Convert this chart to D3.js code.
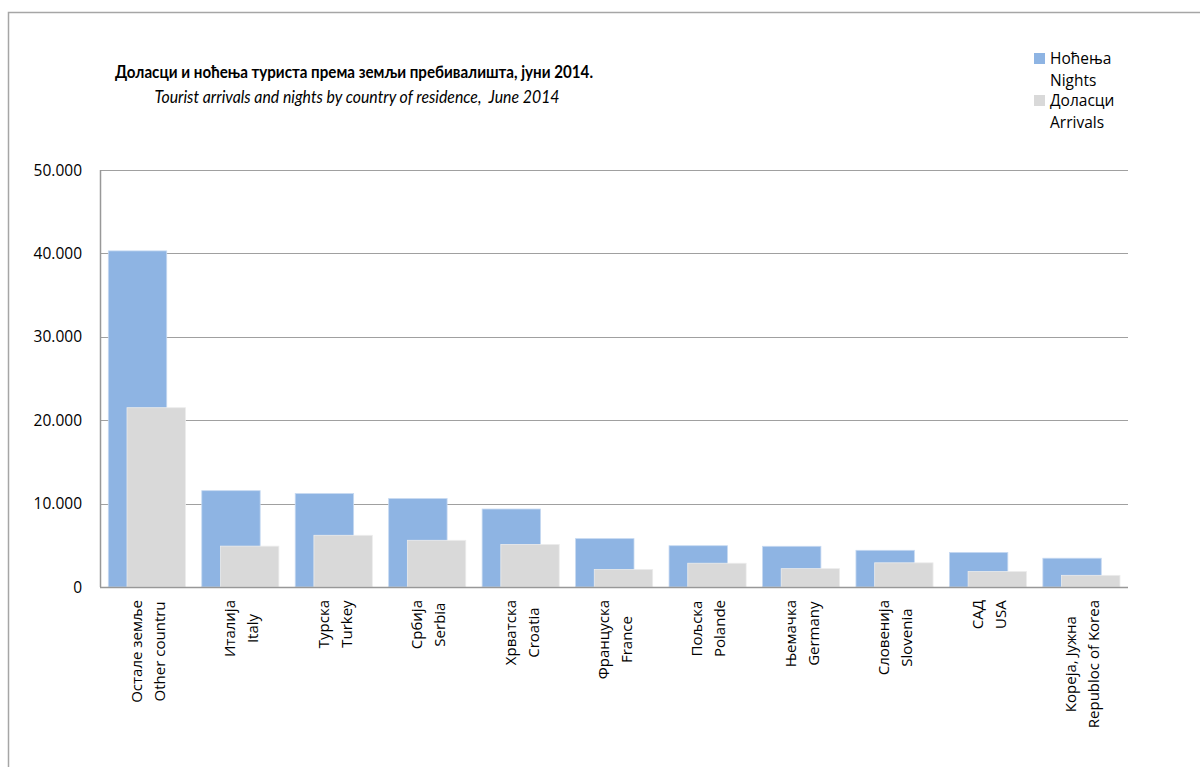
<!DOCTYPE html>
<html>
<head>
<meta charset="utf-8">
<script src="https://cdn.jsdelivr.net/npm/d3@7/dist/d3.min.js"></script>
<style>
body{margin:0;background:#fff;}
text{font-family:"Open Sans",sans-serif;fill:#000;}
</style>
</head>
<body>
<svg id="chart"></svg>
<script>
// categories, two lines each (Serbian / English)
var countriesSr = ["Остале земље","Италија","Турска","Србија","Хрватска","Француска","Пољска","Њемачка","Словенија","САД","Кореја, Јужна"]
var countriesEn = ["Other countru","Italy","Turkey","Serbia","Croatia","France","Polande","Germany","Slovenia","USA","Republoc of Korea"]
var nights   = [40300,11550,11200,10600,9350,5800,4950,4880,4400,4150,3450]
var arrivals = [21500,4900,6200,5600,5100,2100,2850,2200,2900,1850,1400]
var yTicks = [0,10000,20000,30000,40000,50000]
var seriesNames = [["Ноћења","Nights"],["Доласци","Arrivals"]]
var colors = ["#8eb4e3","#d9d9d9"]

var screen = {width:1200,height:767}
var margins = {left:100,right:72,top:170,bottom:180}
var graph = {
    width:screen.width-margins.left-margins.right,
    height:screen.height-margins.top-margins.bottom
}

var svg = d3.select("#chart")
    .attr("width",screen.width)
    .attr("height",screen.height)

// outer frame
svg.append("rect")
    .attr("x",8.5).attr("y",12.5)
    .attr("width",1230).attr("height",800)
    .attr("fill","none")
    .attr("stroke","#a6a6a6")
    .attr("stroke-width",1.5)

var xScale = d3.scaleBand()
    .domain(d3.range(countriesSr.length))
    .range([0,graph.width])

var yScale = d3.scaleLinear()
    .domain([0,50000])
    .range([graph.height,0])

var target = svg.append("g")
    .attr("transform","translate("+margins.left+","+margins.top+")")

// gridlines
target.append("g")
    .selectAll("line")
    .data(yTicks)
    .enter()
    .append("line")
    .attr("x1",0)
    .attr("x2",graph.width)
    .attr("y1",function(d){return Math.round(yScale(d))+0.5})
    .attr("y2",function(d){return Math.round(yScale(d))+0.5})
    .attr("stroke","#a0a0a0")
    .attr("stroke-width",1.2)

var bw = xScale.bandwidth()
var barW = bw*0.625
var pad = bw*0.089
var shift = bw*0.2

// nights bars
target.append("g")
    .selectAll("rect")
    .data(nights)
    .enter()
    .append("rect")
    .attr("x",function(d,i){return xScale(i)+pad})
    .attr("y",function(d){return yScale(d)})
    .attr("width",barW)
    .attr("height",function(d){return graph.height-yScale(d)})
    .attr("fill",colors[0])
    .attr("stroke","#c6d9f1")
    .attr("stroke-width",0.8)

// arrivals bars
target.append("g")
    .selectAll("rect")
    .data(arrivals)
    .enter()
    .append("rect")
    .attr("x",function(d,i){return xScale(i)+pad+shift})
    .attr("y",function(d){return yScale(d)})
    .attr("width",barW)
    .attr("height",function(d){return graph.height-yScale(d)})
    .attr("fill",colors[1])
    .attr("stroke","#ececec")
    .attr("stroke-width",0.8)

// axes lines
target.append("line")
    .attr("x1",0.5).attr("x2",0.5)
    .attr("y1",0).attr("y2",graph.height)
    .attr("stroke","#989898").attr("stroke-width",1.5)
target.append("line")
    .attr("x1",0).attr("x2",graph.width)
    .attr("y1",graph.height+0.5).attr("y2",graph.height+0.5)
    .attr("stroke","#989898").attr("stroke-width",1.5)

// y labels
var fmt = function(d){return d3.format(",")(d).replace(/,/g,".")}
target.append("g")
    .selectAll("text")
    .data(yTicks)
    .enter()
    .append("text")
    .attr("x",-18)
    .attr("y",function(d){return yScale(d)+5.5})
    .attr("text-anchor","end")
    .style("font-size","15.5px")
    .text(fmt)

// x labels (rotated, two centred lines)
var labelTop = graph.height+13
countriesSr.forEach(function(sr,i){
    var g = target.append("g")
        .attr("transform","translate("+(xScale(i)+bw/2)+",0)")
    var t1 = g.append("text").text(sr).style("font-size","15px")
    var t2 = g.append("text").text(countriesEn[i]).style("font-size","15px")
    var len = Math.max(t1.node().getComputedTextLength(),t2.node().getComputedTextLength())
    var cy = labelTop+len/2
    t1.attr("text-anchor","middle")
        .attr("transform","translate(-5,"+cy+") rotate(-90)")
    t2.attr("text-anchor","middle")
        .attr("transform","translate(18,"+cy+") rotate(-90)")
})

// title
svg.append("text")
    .attr("x",354)
    .attr("y",78)
    .attr("text-anchor","middle")
    .style("font-family","Lato, sans-serif")
    .style("font-size","16.5px")
    .style("font-weight","bold")
    .attr("textLength",478)
    .attr("lengthAdjust","spacingAndGlyphs")
    .text("Доласци и ноћења туриста према земљи пребивалишта, јуни 2014.")
svg.append("text")
    .attr("x",357)
    .attr("y",103)
    .attr("text-anchor","middle")
    .style("font-family","Lato, sans-serif")
    .style("font-size","16.5px")
    .style("font-style","italic")
    .attr("xml:space","preserve")
    .attr("textLength",405)
    .attr("lengthAdjust","spacingAndGlyphs")
    .text("Tourist arrivals and nights by country of residence,  June 2014")

// legend
var legend = svg.append("g")
seriesNames.forEach(function(names,i){
    var y0 = 53+i*42
    legend.append("rect")
        .attr("x",1034).attr("y",y0)
        .attr("width",11).attr("height",11)
        .attr("fill",colors[i])
    legend.append("text")
        .attr("x",1050).attr("y",y0+11)
        .style("font-size","15.5px")
        .text(names[0])
    legend.append("text")
        .attr("x",1050).attr("y",y0+33)
        .style("font-size","15.5px")
        .text(names[1])
})
</script>
</body>
</html>
